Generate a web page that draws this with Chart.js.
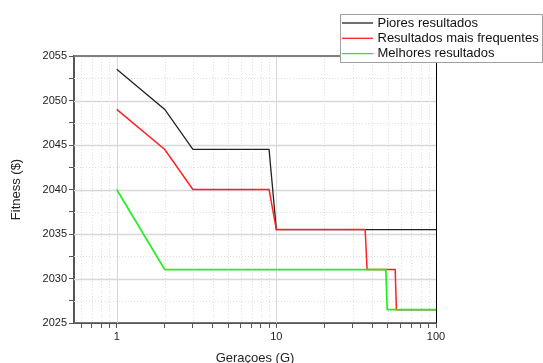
<!DOCTYPE html>
<html>
<head>
<meta charset="utf-8">
<script src="https://cdn.jsdelivr.net/npm/chart.js@4"></script>
<style>
  html, body { margin: 0; padding: 0; background: #fff; }
  #wrap { width: 543px; height: 363px; }
</style>
</head>
<body>
<div id="wrap"><canvas id="chart" width="543" height="363"></canvas></div>
<script>
// dados
const seriesNames = ["Piores resultados", "Resultados mais frequentes", "Melhores resultados"];
const seriesColors = ["#222222", "#ff2020", "#22ee22"];

const worstX = [1, 2, 3, 9, 10, 100];
const worstY = [2053.5, 2049, 2044.5, 2044.5, 2035.5, 2035.5];

const freqX = [1, 2, 3, 9, 10, 36, 37, 55.5, 56.5, 100];
const freqY = [2049, 2044.5, 2040, 2040, 2035.5, 2035.5, 2031, 2031, 2026.5, 2026.5];

const bestX = [1, 2, 48.5, 49.5, 100];
const bestY = [2040, 2031, 2031, 2026.5, 2026.5];

// ticks
const xTickLabels = [1, 10, 100];
const xMinorTicks = [0.6, 0.7, 0.8, 0.9, 2, 3, 4, 5, 6, 7, 8, 9, 20, 30, 40, 50, 60, 70, 80, 90];
const yTickLabels = [2025, 2030, 2035, 2040, 2045, 2050, 2055];
const yMinorTicks = [2027.5, 2032.5, 2037.5, 2042.5, 2047.5, 2052.5];

const FONT = "'Liberation Sans', Arial, sans-serif";

function toPoints(xs, ys) {
  return xs.map((x, i) => ({ x: x, y: ys[i] }));
}

const allX = xMinorTicks.concat(xTickLabels).sort((a, b) => a - b);
const allY = yMinorTicks.concat(yTickLabels).sort((a, b) => a - b);

// grelha: principais a cheio, secundárias pontilhadas
const gridPlugin = {
  id: "grid",
  beforeDatasetsDraw(chart) {
    const { ctx, chartArea: a } = chart;
    const xs = chart.scales.x, ys = chart.scales.y;
    ctx.save();
    ctx.beginPath();
    ctx.rect(a.left, a.top, a.right - a.left, a.bottom - a.top);
    ctx.clip();
    allX.forEach((v) => {
      const major = xTickLabels.includes(v);
      const px = Math.round(xs.getPixelForValue(v)) + 0.5;
      ctx.strokeStyle = major ? "#d8d8d8" : "#dedede";
      ctx.lineWidth = 1;
      ctx.setLineDash(major ? [] : [1, 2]);
      ctx.beginPath();
      ctx.moveTo(px, a.top);
      ctx.lineTo(px, a.bottom);
      ctx.stroke();
    });
    allY.forEach((v) => {
      const major = yTickLabels.includes(v);
      const py = Math.round(ys.getPixelForValue(v)) + 0.5;
      ctx.strokeStyle = major ? "#d8d8d8" : "#dedede";
      ctx.lineWidth = major ? 1.5 : 1;
      ctx.setLineDash(major ? [] : [1, 2]);
      ctx.beginPath();
      ctx.moveTo(a.left, py);
      ctx.lineTo(a.right, py);
      ctx.stroke();
    });
    ctx.restore();
  },
  afterDraw(chart) {
    const { ctx, chartArea: a } = chart;
    ctx.save();
    ctx.setLineDash([]);
    // borda de cima e da direita
    ctx.strokeStyle = "#808080";
    ctx.lineWidth = 2;
    ctx.beginPath();
    ctx.moveTo(a.left, a.top);
    ctx.lineTo(a.right, a.top);
    ctx.stroke();
    ctx.strokeStyle = "#000";
    ctx.lineWidth = 1;
    ctx.beginPath();
    ctx.moveTo(Math.round(a.right) + 0.5, a.top);
    ctx.lineTo(Math.round(a.right) + 0.5, a.bottom);
    ctx.stroke();

    // legenda
    const bx = 340.5, by = 14.5, bw = 202, bh = 48;
    ctx.fillStyle = "#fff";
    ctx.fillRect(bx, by, bw, bh);
    ctx.strokeStyle = "#a0a0a0";
    ctx.strokeRect(bx, by, bw, bh);
    ctx.font = "13px " + FONT;
    ctx.textBaseline = "middle";
    ctx.textAlign = "left";
    seriesNames.forEach((name, i) => {
      const ly = 23 + i * 15.3;
      ctx.strokeStyle = seriesColors[i];
      ctx.lineWidth = 1.3;
      ctx.beginPath();
      ctx.moveTo(342, ly);
      ctx.lineTo(373, ly);
      ctx.stroke();
      ctx.fillStyle = "#111";
      ctx.fillText(name, 377.5, ly);
    });
    ctx.restore();
  }
};

const lineStyle = (i, w) => ({
  borderColor: seriesColors[i],
  backgroundColor: seriesColors[i],
  borderWidth: w,
  pointRadius: 0,
  tension: 0,
  fill: false
});

new Chart(document.getElementById("chart"), {
  type: "line",
  data: {
    datasets: [
      { label: seriesNames[0], data: toPoints(worstX, worstY), order: 3, ...lineStyle(0, 1.3) },
      { label: seriesNames[1], data: toPoints(freqX, freqY), order: 2, ...lineStyle(1, 1.5) },
      { label: seriesNames[2], data: toPoints(bestX, bestY), order: 1, ...lineStyle(2, 1.7) }
    ]
  },
  options: {
    responsive: false,
    animation: false,
    layout: { padding: { left: 0, top: 56, right: 107, bottom: 0 } },
    plugins: {
      legend: { display: false },
      tooltip: { enabled: false }
    },
    scales: {
      x: {
        type: "logarithmic",
        min: 0.54,
        max: 100,
        afterBuildTicks: (s) => { s.ticks = allX.map((v) => ({ value: v })); },
        afterFit: (s) => { s.height = 40; },
        grid: { drawOnChartArea: false, drawTicks: true, tickLength: 5, tickColor: "#555", tickWidth: 1 },
        border: { color: "#555", width: 2 },
        ticks: {
          autoSkip: false,
          maxRotation: 0,
          padding: 2,
          color: "#222",
          font: { family: FONT, size: 11 },
          callback: (v) => (xTickLabels.includes(v) ? String(v) : "")
        },
        title: {
          display: true,
          text: "Geraçoes (G)",
          color: "#222",
          font: { family: FONT, size: 13, lineHeight: 1 },
          padding: { top: 4, bottom: -1.5 }
        }
      },
      y: {
        type: "linear",
        min: 2025,
        max: 2055,
        afterBuildTicks: (s) => { s.ticks = allY.map((v) => ({ value: v })); },
        afterFit: (s) => { s.width = 74; },
        grid: { drawOnChartArea: false, drawTicks: true, tickLength: 5, tickColor: "#555", tickWidth: 1 },
        border: { color: "#555", width: 2 },
        ticks: {
          autoSkip: false,
          padding: 2,
          color: "#222",
          font: { family: FONT, size: 11 },
          callback: (v) => (yTickLabels.includes(v) ? String(v) : "")
        },
        title: {
          display: true,
          text: "Fitness ($)",
          color: "#222",
          font: { family: FONT, size: 13, lineHeight: 1 },
          padding: { top: 10, bottom: 0 }
        }
      }
    }
  },
  plugins: [gridPlugin]
});
</script>
</body>
</html>
